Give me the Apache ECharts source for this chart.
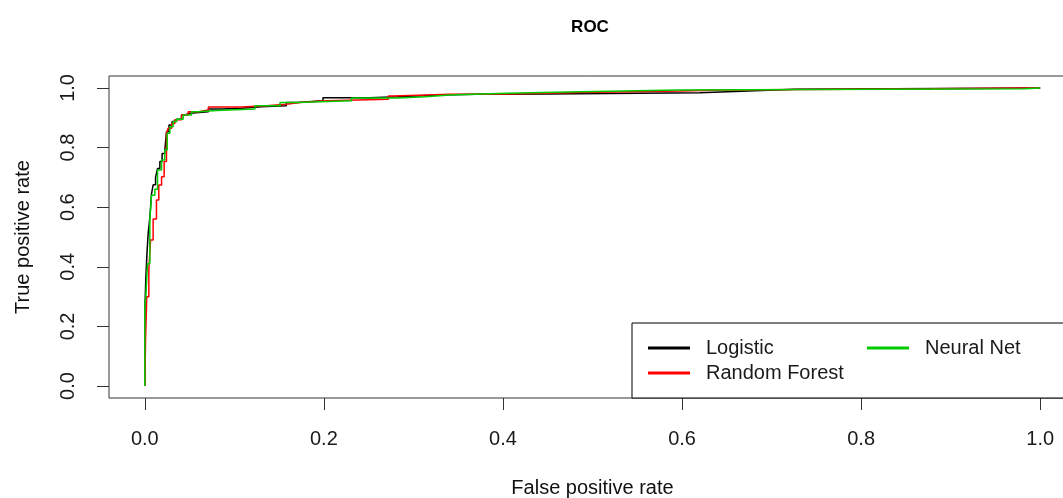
<!DOCTYPE html>
<html>
<head>
<meta charset="utf-8">
<script src="https://cdn.jsdelivr.net/npm/echarts@6/dist/echarts.min.js"></script>
<style>
html,body{margin:0;padding:0;background:#fff;}
#chart{width:1063px;height:498px;}
</style>
</head>
<body>
<div id="chart"></div>
<script>
// Tick values shown on both axes
const tickValues = [0, 0.2, 0.4, 0.6, 0.8, 1.0];

// Series names
const seriesNames = ['Logistic', 'Random Forest', 'Neural Net'];

// ROC curves: [false positive rate where tpr steps up, new true positive rate]
const logistic = [
  [0,0],[0,0.25],[0.0011,0.36],[0.0025,0.45],[0.0037,0.51],[0.0056,0.565],[0.0075,0.645],
  [0.0093,0.675],[0.012,0.70],[0.0142,0.73],[0.0168,0.753],[0.0193,0.78],[0.0223,0.79],
  [0.0242,0.853],[0.027,0.876],[0.0305,0.887],[0.0354,0.895],[0.041,0.909],[0.0447,0.915],
  [0.0503,0.92],[0.071,0.929],[0.086,0.932],[0.108,0.937],[0.13,0.94],[0.158,0.951],
  [0.17,0.957],[0.199,0.967],[0.251,0.97],[0.283,0.976],[0.33,0.979],[0.37,0.98],
  [0.449,0.984],[0.62,0.99],[0.674,0.9955],[0.726,1.0],[1.0,1.0]
];
const randomForest = [
  [0,0],[0.0008,0.154],[0.0022,0.30],[0.0045,0.39],[0.0064,0.49],[0.0093,0.56],[0.013,0.624],
  [0.0156,0.674],[0.0187,0.702],[0.0216,0.753],[0.0242,0.848],[0.026,0.865],[0.03,0.881],
  [0.0335,0.893],[0.041,0.909],[0.0484,0.92],[0.06,0.926],[0.071,0.936],[0.108,0.94],
  [0.136,0.945],[0.158,0.951],[0.173,0.957],[0.203,0.962],[0.272,0.973],[0.277,0.979],
  [0.341,0.98],[0.404,0.985],[0.486,0.99],[0.598,0.993],[0.646,0.997],[0.879,1.0],[1.0,1.0]
];
const neuralNet = [
  [0,0],[0,0.266],[0.0011,0.30],[0.003,0.41],[0.0056,0.557],[0.0075,0.64],[0.0112,0.66],
  [0.0142,0.725],[0.0187,0.758],[0.0223,0.792],[0.025,0.848],[0.028,0.87],[0.0316,0.887],
  [0.0354,0.895],[0.0428,0.909],[0.0522,0.92],[0.06,0.924],[0.08,0.929],[0.123,0.94],
  [0.151,0.951],[0.17,0.957],[0.231,0.966],[0.283,0.97],[0.313,0.976],[0.341,0.982],
  [0.404,0.987],[0.486,0.993],[0.596,0.997],[0.983,1.0],[1.0,1.0]
];

const colors = ['#000000', '#ff0000', '#00cd00'];
const FONT = "'Liberation Sans', Arial, sans-serif";

const chart = echarts.init(document.getElementById('chart'), null, {renderer: 'canvas'});

function makeAxis(name, isY) {
  return {
    type: 'value',
    min: -0.04,
    max: 1.04,
    name: name,
    nameLocation: 'middle',
    nameGap: isY ? 76 : 80,
    nameTextStyle: {fontFamily: FONT, fontSize: 20, color: '#111'},
    axisLine: {show: false, onZero: false},
    splitLine: {show: false},
    axisTick: {show: true, inside: false, length: 12, customValues: tickValues, lineStyle: {color: '#333', width: 1}},
    axisLabel: {
      customValues: tickValues,
      margin: isY ? 31 : 31,
      rotate: isY ? 90 : 0,
      fontFamily: FONT,
      fontSize: 20,
      color: '#1a1a1a',
      formatter: v => Number(v).toFixed(1)
    }
  };
}

const option = {
  animation: false,
  backgroundColor: '#fff',
  title: {
    text: 'ROC',
    left: 590,
    top: 19,
    textAlign: 'center',
    padding: 0,
    textStyle: {fontFamily: FONT, fontSize: 17, fontWeight: 'bold', color: '#000'}
  },
  grid: {
    left: 109, top: 76, width: 967, height: 322,
    outerBoundsMode: 'none',
    containLabel: false,
    show: true, borderColor: '#333', borderWidth: 1, backgroundColor: 'transparent'
  },
  xAxis: makeAxis('False positive rate', false),
  yAxis: makeAxis('True positive rate', true),
  legend: [
    {
      data: [seriesNames[0], seriesNames[1]],
      orient: 'vertical',
      left: 632, top: 323,
      padding: [15, 240, 15, 16],
      itemGap: 5,
      itemWidth: 42, itemHeight: 3,
      icon: 'rect',
      selectedMode: false,
      borderColor: '#000', borderWidth: 1,
      backgroundColor: '#fff',
      textStyle: {fontFamily: FONT, fontSize: 20, color: '#1a1a1a', padding: [0, 0, 0, 11]}
    },
    {
      data: [seriesNames[2]],
      orient: 'vertical',
      left: 867, top: 338,
      padding: 0,
      itemWidth: 42, itemHeight: 3,
      icon: 'rect',
      selectedMode: false,
      textStyle: {fontFamily: FONT, fontSize: 20, color: '#1a1a1a', padding: [0, 0, 0, 11]}
    }
  ],
  series: [
    {name: seriesNames[0], type: 'line', step: 'end', data: logistic, showSymbol: false,
     lineStyle: {color: colors[0], width: 1.5}, itemStyle: {color: colors[0]}},
    {name: seriesNames[1], type: 'line', step: 'end', data: randomForest, showSymbol: false,
     lineStyle: {color: colors[1], width: 1.5}, itemStyle: {color: colors[1]}},
    {name: seriesNames[2], type: 'line', step: 'end', data: neuralNet, showSymbol: false,
     lineStyle: {color: colors[2], width: 1.5}, itemStyle: {color: colors[2]}}
  ]
};
chart.setOption(option);
</script>
</body>
</html>
